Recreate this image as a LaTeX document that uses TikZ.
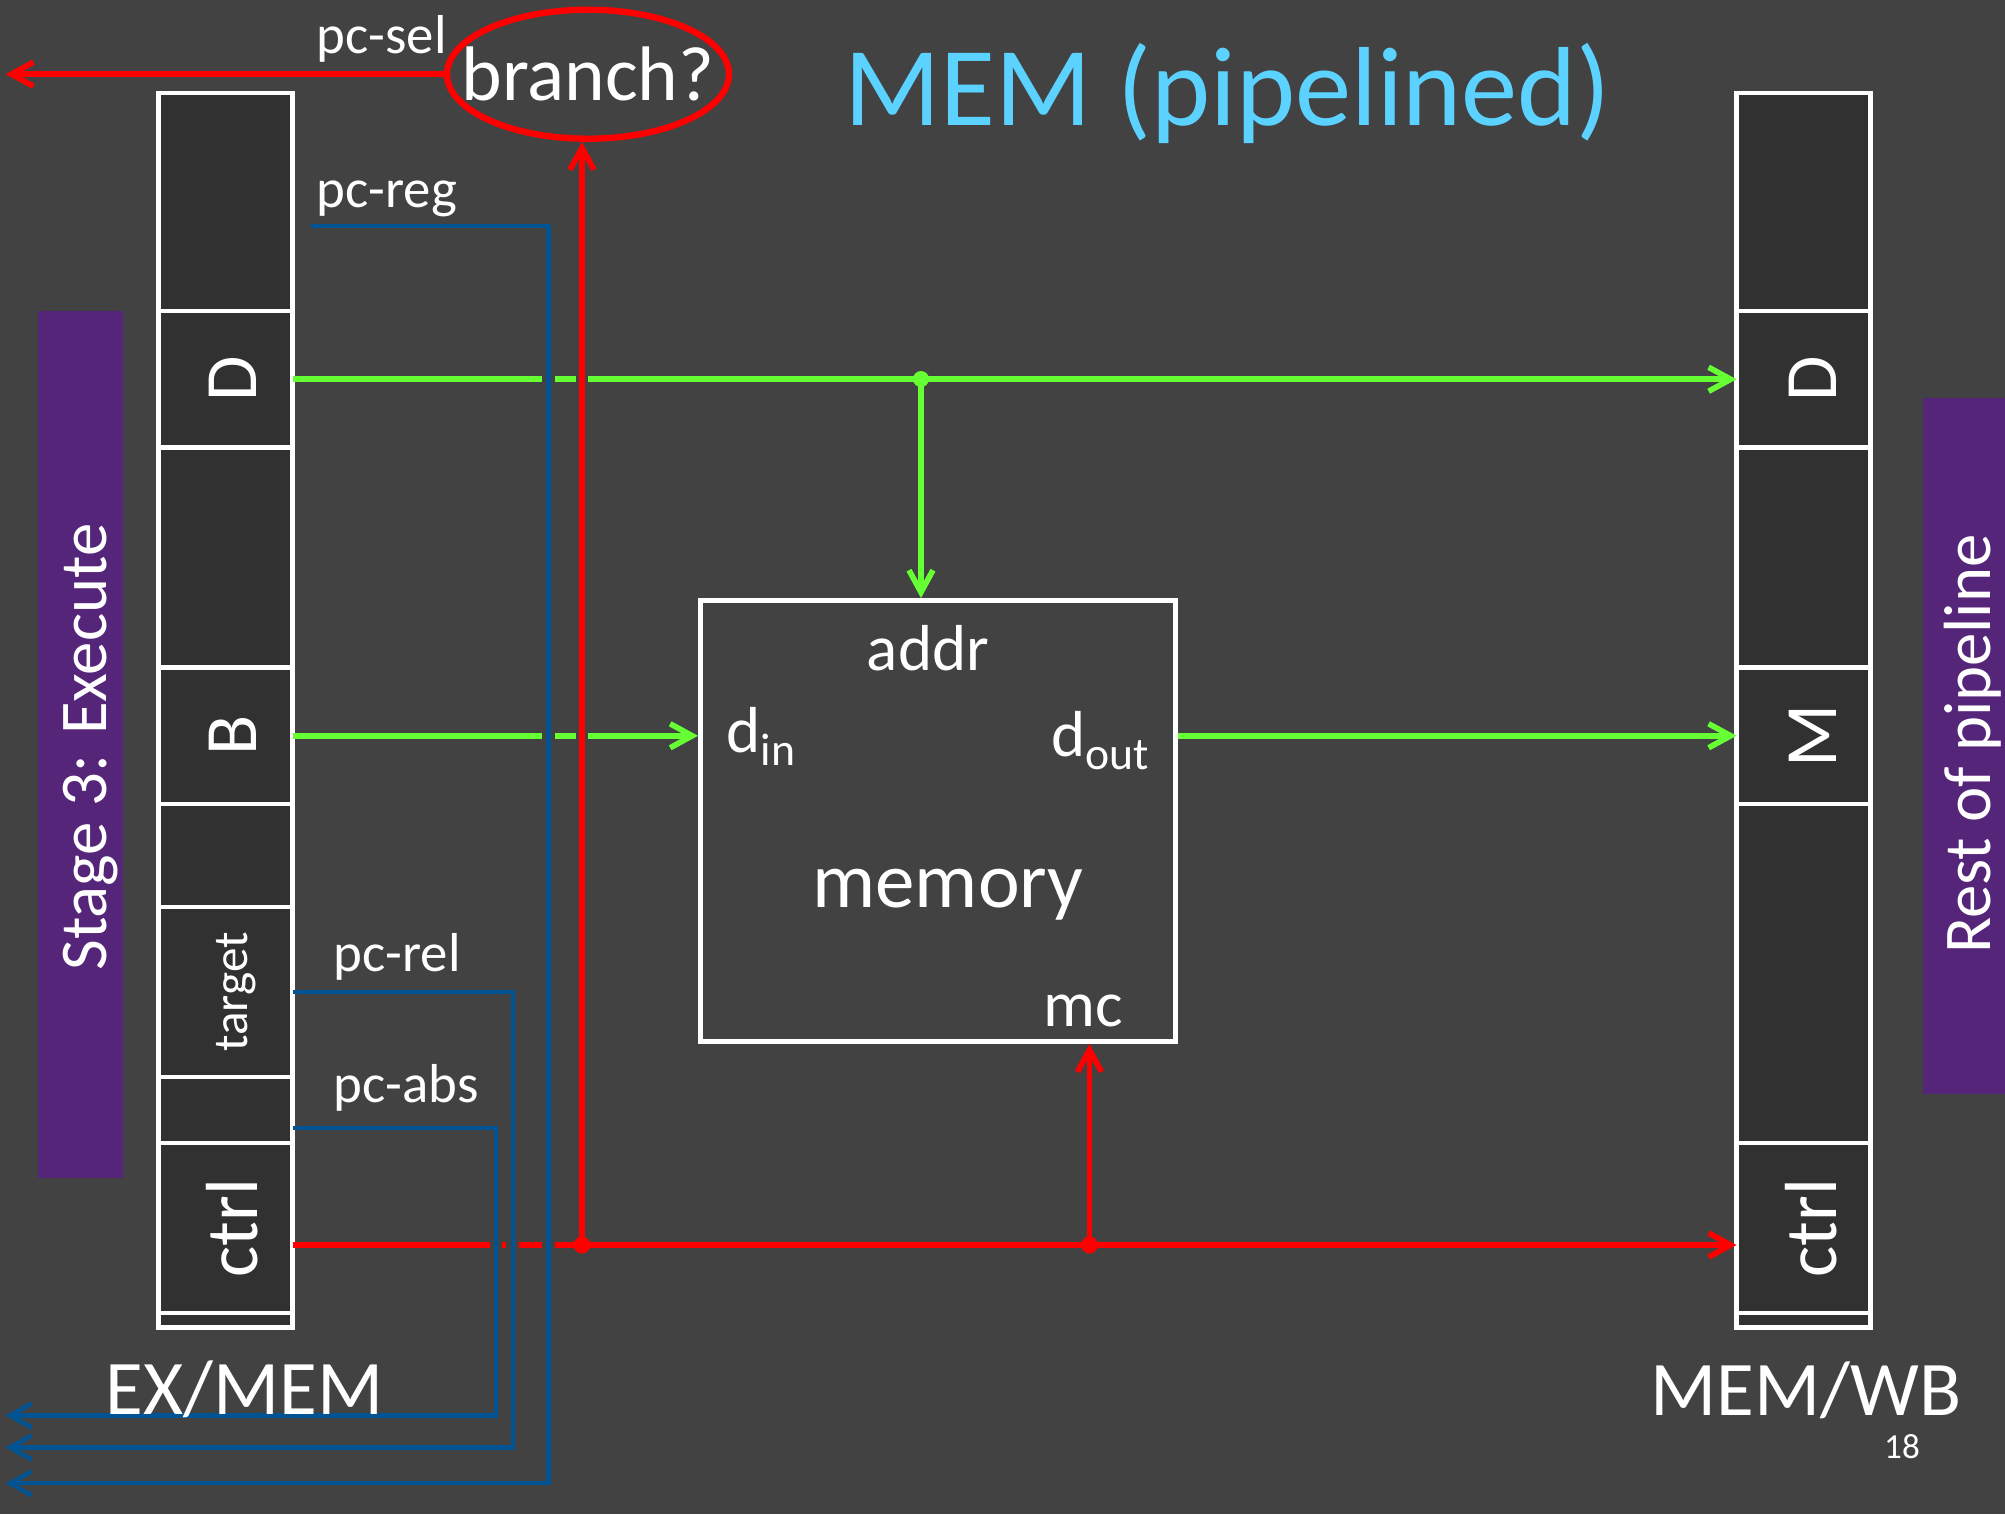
\documentclass[tikz,border=0pt]{standalone}
\usepackage{fontspec}
\setmainfont{Carlito}
\usetikzlibrary{arrows.meta,calc,positioning,shapes.geometric}

\definecolor{slidebg}{RGB}{66,66,66}
\definecolor{regfill}{RGB}{49,49,49}
\definecolor{stagepurple}{RGB}{85,37,122}
\definecolor{titleblue}{RGB}{91,210,255}
\definecolor{wiregreen}{RGB}{102,255,51}
\definecolor{wireblue}{RGB}{0,84,147}

\newcommand{\portsub}[1]{\raisebox{-0.13cm}{\fontsize{13}{13}\selectfont #1}}

\begin{document}
\begin{tikzpicture}[>={Straight Barb[length=2.2mm,width=2.4mm]},
  regcell/.style={draw=white,fill=regfill,line width=1.4pt,minimum width=1.34cm,inner sep=0pt,outer sep=0pt},
  regtext/.style={rotate=90,anchor=base,text=white,inner sep=0pt,font=\fontsize{21}{21}\selectfont},
  stagebox/.style={fill=stagepurple,inner sep=0pt,outer sep=0pt},
  stagetext/.style={rotate=90,anchor=base,text=white,inner sep=0pt,font=\fontsize{19}{19}\selectfont},
  wirelbl/.style={anchor=base west,text=white,inner sep=0pt,font=\fontsize{15.6}{16}\selectfont},
  portlbl/.style={text=white,inner sep=0pt,font=\fontsize{18.5}{19}\selectfont},
  greenwire/.style={draw=wiregreen,line width=1.6pt},
  redwire/.style={draw=red,line width=1.6pt},
  bluewire/.style={draw=wireblue,line width=1.2pt},
  bridge/.style={draw=slidebg,line width=3.6pt}]

  \fill[slidebg] (0,0) rectangle (20.05,-15.14);
  \useasboundingbox (0,0) rectangle (20.05,-15.14);

  % side bars
  \node[stagebox,minimum width=0.85cm,minimum height=8.67cm] (stage) at (0.805,-7.445) {};
  \node[stagetext] (stagetxt) at (1.06,-7.47) {Stage 3: Execute};
  \node[stagebox,minimum width=0.82cm,minimum height=6.96cm] (rest) at (19.64,-7.455) {};
  \node[stagetext] (resttxt) at (19.90,-7.44) {Rest of pipeline};

  % EX/MEM register
  \node[regcell,minimum height=2.18cm,anchor=north] (ex1) at (2.255,-0.93) {};
  \node[regcell,minimum height=1.365cm,below=0pt of ex1] (exD) {};
  \node[regcell,minimum height=2.2cm,below=0pt of exD] (ex3) {};
  \node[regcell,minimum height=1.365cm,below=0pt of ex3] (exB) {};
  \node[regcell,minimum height=1.03cm,below=0pt of exB] (ex5) {};
  \node[regcell,minimum height=1.7cm,below=0pt of ex5] (extgt) {};
  \node[regcell,minimum height=0.66cm,below=0pt of extgt] (ex7) {};
  \node[regcell,minimum height=1.7cm,below=0pt of ex7] (exctrl) {};
  \node[regcell,minimum height=0.145cm,below=0pt of exctrl] (ex9) {};
  \node[regtext] (exDtxt) at ($(exD.center)+(0.305,0)$) {D};
  \node[regtext] (exBtxt) at ($(exB.center)+(0.305,0)$) {B};
  \node[regtext,font=\fontsize{14}{14}\selectfont] (extgttxt) at ($(extgt.center)+(0.215,0)$) {target};
  \node[regtext] (exctrltxt) at ($(exctrl.center)+(0.315,0)$) {ctrl};

  % MEM/WB register
  \node[regcell,minimum height=2.18cm,anchor=north] (wb1) at (18.035,-0.93) {};
  \node[regcell,minimum height=1.365cm,below=0pt of wb1] (wbD) {};
  \node[regcell,minimum height=2.2cm,below=0pt of wbD] (wb3) {};
  \node[regcell,minimum height=1.365cm,below=0pt of wb3] (wbM) {};
  \node[regcell,minimum height=3.39cm,below=0pt of wbM] (wb5) {};
  \node[regcell,minimum height=1.7cm,below=0pt of wb5] (wbctrl) {};
  \node[regcell,minimum height=0.145cm,below=0pt of wbctrl] (wb7) {};
  \node[regtext] (wbDtxt) at ($(wbD.center)+(0.325,0)$) {D};
  \node[regtext] (wbMtxt) at ($(wbM.center)+(0.325,0)$) {M};
  \node[regtext] (wbctrltxt) at ($(wbctrl.center)+(0.325,0)$) {ctrl};

  % memory and branch test
  \node[draw=white,line width=1.4pt,minimum width=4.75cm,minimum height=4.41cm,inner sep=0pt] (mem) at (9.38,-8.21) {};
  \node[portlbl,anchor=base] (addr) at (9.28,-6.70) {addr};
  \node[portlbl,anchor=base west] (din) at (7.26,-7.52) {d\portsub{in}};
  \node[portlbl,anchor=base west] (dout) at (10.51,-7.56) {d\portsub{out}};
  \node[portlbl,anchor=base,font=\fontsize{22.5}{23}\selectfont] (memtxt) at (9.48,-9.07) {memory};
  \node[portlbl,anchor=base] (mc) at (10.83,-10.26) {mc};
  \node[ellipse,draw=red,line width=1.8pt,minimum width=2.82cm,minimum height=1.29cm,inner sep=0pt] (branch) at (5.88,-0.742) {};
  \node[text=white,inner sep=0pt,font=\fontsize{22}{22}\selectfont] (branchtxt) at (branch.center) {branch?};

  % data wires
  \coordinate (dsplit) at (9.21,-3.79);
  \draw[greenwire,->] (exD.east) -- (wbD.west);
  \draw[greenwire,->] (dsplit) -- (dsplit |- mem.north);
  \fill[wiregreen] (dsplit) circle (0.08);
  \draw[greenwire,->] (exB.east) -- (exB.east -| mem.west);
  \draw[greenwire,->] (mem.east |- wbM.west) -- (wbM.west);

  % control wires
  \coordinate (brsplit) at (5.82,-12.45);
  \coordinate (mcsplit) at (10.895,-12.45);
  \draw[redwire,->] (exctrl.east |- brsplit) -- (wbctrl.west |- brsplit);

  % gaps where vertical wires cross
  \foreach \cx/\cy in {5.486/-3.79,5.82/-3.79,5.486/-7.36,5.82/-7.36,4.96/-12.45,5.128/-12.45,5.486/-12.45}
    \draw[bridge] (\cx,{\cy+0.2}) -- (\cx,{\cy-0.2});

  \draw[redwire,->] (brsplit) -- (brsplit |- branch.south);
  \draw[redwire,->] (mcsplit) -- (mcsplit |- mem.south);
  \fill[red] (brsplit) circle (0.085);
  \fill[red] (mcsplit) circle (0.085);
  \coordinate (selend) at (0.055,-0.742);
  \draw[redwire,->] (branch.west) -- (selend);

  % pc wires
  \coordinate (regout) at (3.107,-2.263);
  \coordinate (regturn) at (5.486,-14.833);
  \coordinate (regend) at (0.055,-14.833);
  \coordinate (relturn) at (5.128,-14.475);
  \coordinate (relend) at (0.055,-14.475);
  \coordinate (absout) at ($(ex7.east)+(0,-0.18)$);
  \coordinate (absturn) at (4.96,-14.155);
  \coordinate (absend) at (0.055,-14.155);
  \draw[bluewire,->] (regout) -| (regturn) -- (regend);
  \draw[bluewire,->] (extgt.east) -| (relturn) -- (relend);
  \draw[bluewire,->] (absout) -| (absturn) -- (absend);

  \node[wirelbl] (pcsel) at (3.16,-0.53) {pc-sel};
  \node[wirelbl] (pcreg) at (3.16,-2.07) {pc-reg};
  \node[wirelbl] (pcrel) at (3.33,-9.71) {pc-rel};
  \node[wirelbl] (pcabs) at (3.33,-11.02) {pc-abs};

  % titles
  \node[anchor=base west,text=titleblue,inner sep=0pt,font=\fontsize{32}{32}\selectfont] (title) at (8.44,-1.25) {MEM (pipelined)};
  \node[anchor=base west,text=white,inner sep=0pt,font=\fontsize{22}{22}\selectfont] (exname) at (1.05,-14.14) {EX/MEM};
  \node[anchor=base west,text=white,inner sep=0pt,font=\fontsize{22}{22}\selectfont] (wbname) at (16.50,-14.15) {MEM/WB};
  \node[text=white,inner sep=0pt,font=\fontsize{10}{10}\selectfont] (pagenum) at (19.02,-14.47) {18};
\end{tikzpicture}
\end{document}
